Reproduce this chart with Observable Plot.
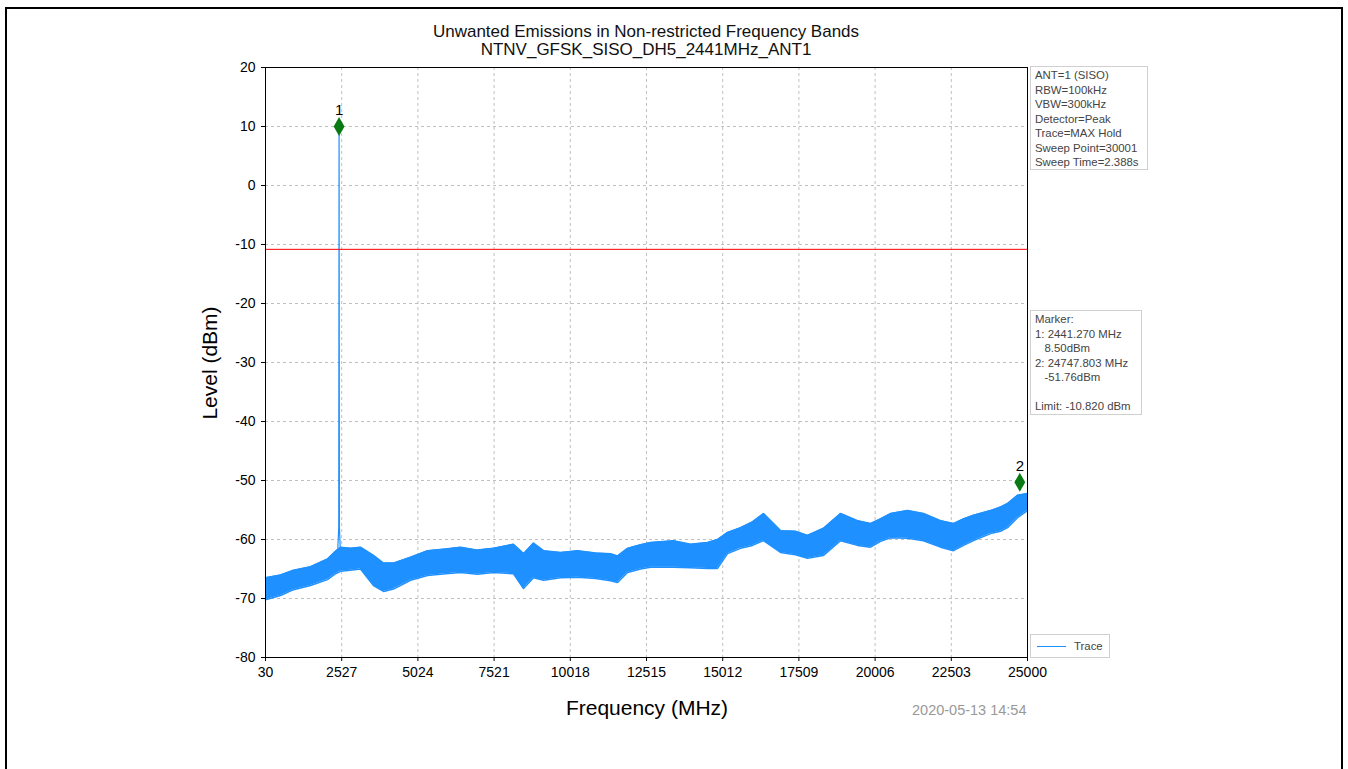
<!DOCTYPE html>
<html><head><meta charset="utf-8">
<script src="https://cdn.jsdelivr.net/npm/d3@7"></script>
<script src="https://cdn.jsdelivr.net/npm/@observablehq/plot@0.6"></script>
<style>
body{margin:0;background:#fff;font-family:"Liberation Sans",Arial,sans-serif;}
#wrap{position:relative;width:1348px;height:769px;overflow:hidden;background:#fff;}
.border{position:absolute;left:5px;top:7px;width:1334px;height:800px;border:2.5px solid #000;border-bottom:none;}
#chart{position:absolute;left:0;top:0;}
.title{position:absolute;left:296px;width:700px;text-align:center;font-size:17px;color:#111;line-height:18px;}
.ylab{position:absolute;left:210px;top:363px;transform:translate(-50%,-50%) rotate(-90deg);font-size:21px;white-space:nowrap;color:#000;}
.xlab{position:absolute;left:647px;top:708px;transform:translate(-50%,-50%);font-size:21px;white-space:nowrap;color:#000;}
.stamp{position:absolute;left:912px;top:702px;font-size:14.5px;color:#999;white-space:nowrap;}
.box{position:absolute;border:1px solid #d0d0d0;background:#fff;font-size:11.4px;line-height:14.5px;color:#444;padding:1px 4px;white-space:pre;box-sizing:border-box;}
.lgline{position:absolute;left:6px;top:11px;width:29px;height:0;border-top:1.2px solid #1e90ff;}
</style></head><body>
<div id="wrap">
  <div class="border"></div>
  <div id="chart"></div>
  <div class="title" style="top:23px">Unwanted Emissions in Non-restricted Frequency Bands</div>
  <div class="title" style="top:41px">NTNV_GFSK_SISO_DH5_2441MHz_ANT1</div>
  <div class="ylab">Level (dBm)</div>
  <div class="xlab">Frequency (MHz)</div>
  <div class="stamp">2020-05-13 14:54</div>
  <div id="info" class="box" style="left:1030px;top:66px;width:118px;height:104px;"></div>
  <div id="mk" class="box" style="left:1030px;top:310px;width:112px;height:105px;"></div>
  <div class="box" style="left:1030px;top:634px;width:80px;height:24px;"><div class="lgline"></div><span style="position:absolute;left:43px;top:4px;">Trace</span></div>
</div>
<script>
// ---- data ----
const xTicks = [30, 2527, 5024, 7521, 10018, 12515, 15012, 17509, 20006, 22503, 25000];
const yTicks = [20, 10, 0, -10, -20, -30, -40, -50, -60, -70, -80];

// trace envelope (MHz, upper dBm, lower dBm)
const traceFreq = [30,522,948,1505,2062,2324,2488,2815,3143,3569,3897,4225,4782,5339,5929,6420,6977,7502,8157,8485,8813,9141,9698,10254,10844,11336,11565,11893,12319,12647,13401,13958,14515,14843,15170,15596,15989,16350,16907,17398,17791,18315,18873,19430,19856,20183,20511,21068,21592,22149,22575,22903,23230,23788,24115,24345,24672,25000];
const traceHigh = [-66.5,-66.0,-65.2,-64.6,-63.3,-62.0,-61.3,-61.5,-61.3,-62.7,-64.0,-64.0,-63.0,-61.9,-61.6,-61.3,-61.8,-61.5,-60.8,-62.4,-60.6,-61.9,-62.2,-61.9,-62.3,-62.4,-62.8,-61.5,-60.9,-60.5,-60.2,-60.8,-60.5,-60.0,-58.8,-58.0,-57.0,-55.6,-58.5,-58.6,-59.3,-58.1,-55.6,-56.8,-57.3,-56.5,-55.6,-55.1,-55.6,-56.8,-57.3,-56.5,-55.9,-55.1,-54.5,-53.9,-52.5,-52.2];
const traceLow  = [-70.2,-69.5,-68.5,-67.8,-66.8,-65.8,-65.4,-65.2,-65.0,-67.8,-68.8,-68.4,-66.9,-66.1,-65.8,-65.6,-65.9,-65.6,-65.8,-68.3,-66.5,-66.9,-66.5,-66.4,-66.6,-67.0,-67.3,-65.6,-65.0,-64.7,-64.7,-64.8,-64.9,-64.9,-62.4,-61.5,-61.0,-60.2,-62.2,-62.6,-63.2,-62.7,-60.2,-61.0,-61.3,-60.3,-59.7,-59.8,-60.2,-61.3,-61.9,-61.0,-60.2,-59.0,-58.6,-58.0,-56.3,-55.1];

// carrier spike
const spikeFreq = [2400, 2430, 2441.27, 2452, 2480];
const spikeLevel = [-61.5, -58, 9.8, -58, -61.5];

// markers
const markerFreq = [2441.27, 24747.803];
const markerLevel = [10, -50.3];
const markerName = ["1", "2"];

const limit = -10.82;

const infoLines = ["ANT=1 (SISO)","RBW=100kHz","VBW=300kHz","Detector=Peak","Trace=MAX Hold","Sweep Point=30001","Sweep Time=2.388s"];
const markerLines = ["Marker:","1: 2441.270 MHz","   8.50dBm","2: 24747.803 MHz","   -51.76dBm","","Limit: -10.820 dBm"];

// ---- build ----
document.getElementById("info").textContent = infoLines.join("\n");
document.getElementById("mk").textContent = markerLines.join("\n");

const trace = traceFreq.map((f, i) => ({f, hi: traceHigh[i], lo: traceLow[i]}));
const spike = spikeFreq.map((f, i) => ({f, v: spikeLevel[i]}));
const markers = markerFreq.map((f, i) => ({f, v: markerLevel[i], n: markerName[i]}));

const blue = "#1e90ff";
const fmt = d => String(d);

const chart = Plot.plot({
  width: 1348, height: 769,
  marginLeft: 265, marginRight: 321, marginTop: 67, marginBottom: 112,
  style: {fontFamily: "'Liberation Sans', Arial, sans-serif", fontSize: "14px", color: "#000", background: "transparent"},
  x: {domain: [30, 25000]},
  y: {domain: [-80, 20]},
  marks: [
    Plot.gridX(xTicks, {stroke: "#b0b0b0", strokeOpacity: 1, strokeDasharray: "3,3", strokeWidth: 0.8}),
    Plot.gridY(yTicks, {stroke: "#b0b0b0", strokeOpacity: 1, strokeDasharray: "3,3", strokeWidth: 0.8}),
    Plot.areaY(trace, {x: "f", y1: "lo", y2: "hi", fill: blue}),
    Plot.line(trace, {x: "f", y: "hi", stroke: blue, strokeWidth: 1.5}),
    Plot.line(trace, {x: "f", y: "lo", stroke: blue, strokeWidth: 1.5}),
    Plot.line(spike, {x: "f", y: "v", stroke: blue, strokeWidth: 1.2}),
    Plot.ruleY([limit], {stroke: "red", strokeWidth: 1}),
    Plot.dot(markers, {x: "f", y: "v", symbol: "diamond", r: 4.8, fill: "#0a7a14", stroke: "#0a7a14"}),
    Plot.text(markers, {x: "f", y: "v", text: "n", dy: -16, fontSize: 15, fill: "#000"}),
    Plot.frame({stroke: "#000", strokeWidth: 1}),
    Plot.axisX(xTicks, {tickFormat: fmt, tickSize: 4, tickPadding: 6, label: null, stroke: "#000"}),
    Plot.axisY(yTicks, {tickFormat: fmt, tickSize: 4, tickPadding: 6, label: null, stroke: "#000"})
  ]
});
document.getElementById("chart").appendChild(chart);
</script>
</body></html>
